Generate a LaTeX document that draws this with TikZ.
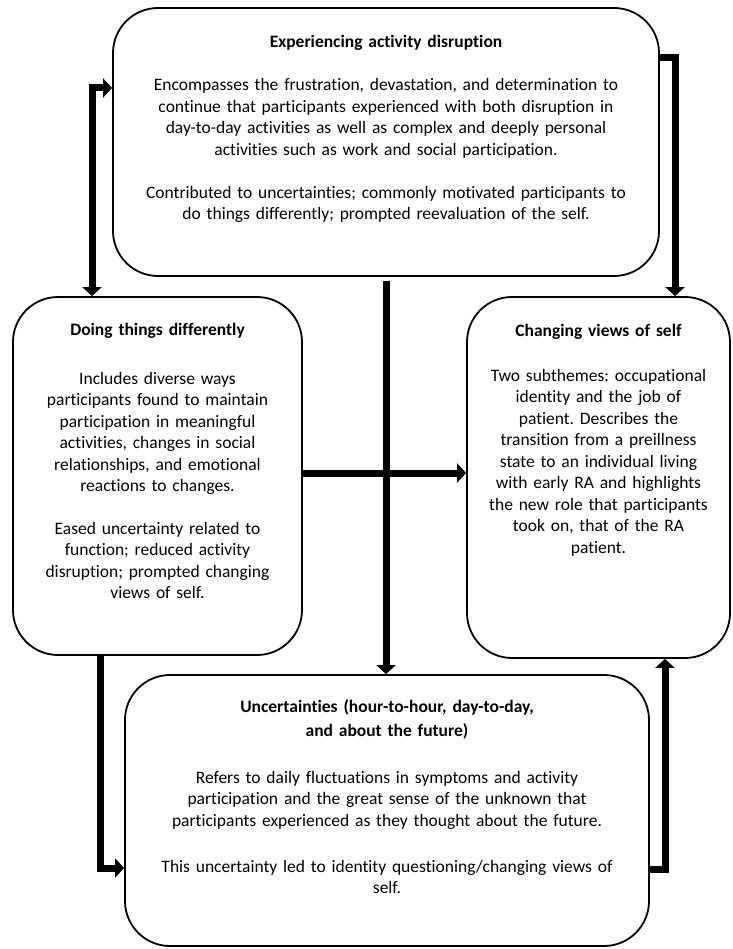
\documentclass[tikz,border=0pt]{standalone}
\usepackage{fontspec}
\setmainfont{Carlito}[Ligatures=NoCommon]
\frenchspacing
\usetikzlibrary{arrows.meta}
\begin{document}
\begin{tikzpicture}[x=1pt,y=-1pt,
  theme/.style={draw=black, line width=1.8pt, rounded corners=45pt, inner sep=0pt},
  themetext/.style={anchor=base, align=center, inner sep=0pt,
    font=\fontsize{17.5}{21.5}\selectfont},
  link/.style={line width=7pt, -{Triangle[width=19pt,length=9pt]}},
  twoway/.style={line width=7pt, {Triangle[width=19pt,length=9pt]}-{Triangle[width=19pt,length=9pt]}},
]
\useasboundingbox (0,0) rectangle (732,949);

% theme boxes
\node[theme, minimum width=546pt, minimum height=268pt] (exper) at (386,142) {};
\node[theme, minimum width=289pt, minimum height=358pt] (doing) at (157.5,476) {};
\node[theme, minimum width=263pt, minimum height=361pt] (changing) at (598.5,477.5) {};
\node[theme, minimum width=524pt, minimum height=271pt] (uncert) at (387,810.5) {};

% theme texts
\node[themetext, text width=530pt] (exper-text) at (386,48) {%
  \textbf{Experiencing activity disruption}\\[21.5pt]
  Encompasses the frustration, devastation, and determination to\\
  continue that participants experienced with both disruption in\\
  day-to-day activities as well as complex and deeply personal\\
  activities such as work and social participation.\\[21.5pt]
  Contributed to uncertainties; commonly motivated participants to\\
  do things differently; prompted reevaluation of the self.};

\node[themetext, text width=280pt] (doing-text) at (157.5,335) {%
  \textbf{Doing things differently}\\[27.5pt]
  Includes diverse ways\\
  participants found to maintain\\
  participation in meaningful\\
  activities, changes in social\\
  relationships, and emotional\\
  reactions to changes.\\[21pt]
  Eased uncertainty related to\\
  function; reduced activity\\
  disruption; prompted changing\\
  views of self.};

\node[themetext, text width=256pt] (changing-text) at (598.5,336) {%
  \textbf{Changing views of self}\\[23.5pt]
  Two subthemes: occupational\\
  identity and the job of\\
  patient. Describes the\\
  transition from a preillness\\
  state to an individual living\\
  with early RA and highlights\\
  the new role that participants\\
  took on, that of the RA\\
  patient.};

\node[themetext, text width=515pt] (uncert-text) at (387,712) {%
  \textbf{Uncertainties (hour-to-hour, day-to-day,}\\[2.5pt]
  \textbf{and about the future)}\\[25.5pt]
  Refers to daily fluctuations in symptoms and activity\\
  participation and the great sense of the unknown that\\
  participants experienced as they thought about the future.\\[24.5pt]
  This uncertainty led to identity questioning/changing views of\\
  self.};

% connectors
\draw[twoway] ([yshift=54pt]exper.west) -| ([xshift=-65.5pt]doing.north);
\draw[link] ([yshift=84pt]exper.east) -| ([xshift=76.5pt]changing.north);
\draw[link] ([yshift=-4pt]exper.south) -- (exper.south |- uncert.north);
\coordinate (hstart) at ([yshift=3pt]doing.east);
\draw[link] (hstart) -- (hstart -| changing.west);
\draw[link] ([xshift=-57.5pt]doing.south) |- ([yshift=-57.5pt]uncert.west);
\draw[link] ([yshift=-58.5pt]uncert.east) -| ([xshift=66.5pt]changing.south);
\end{tikzpicture}
\end{document}
